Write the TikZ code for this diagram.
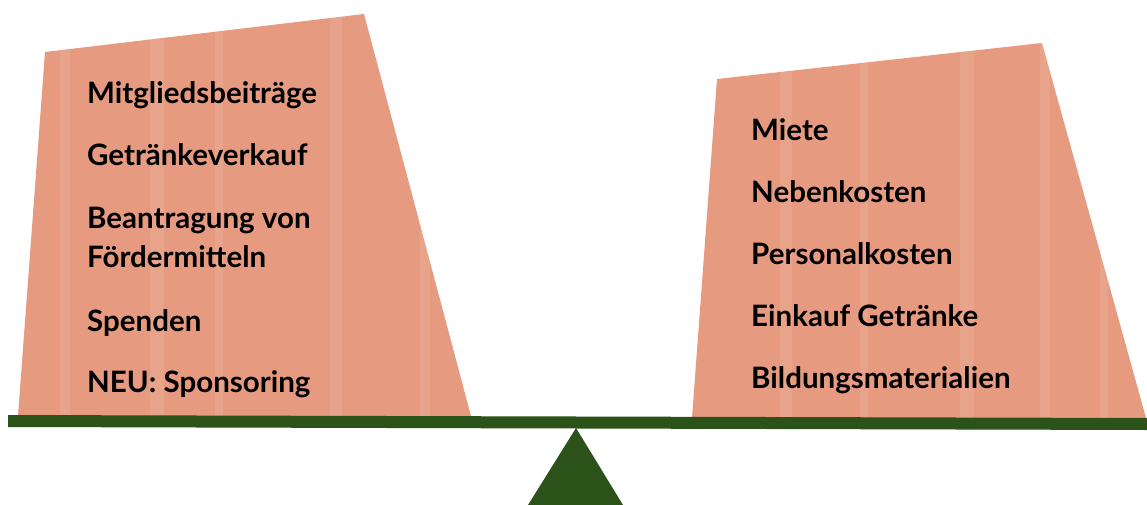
\documentclass[tikz,border=0pt]{standalone}
\usepackage{fontspec}
\setmainfont{Lato}[BoldFont={Lato Bold}]
\definecolor{salmon}{HTML}{E69A80}
\definecolor{beamgreen}{HTML}{2B5219}
\tikzset{
  block/.style={fill=salmon, draw=none},
  item/.style={anchor=base west, inner sep=0pt, font=\fontsize{29.5}{34}\selectfont\bfseries, text=black},
  speck/.style={fill=white, opacity=0.09, draw=none},
}
\begin{document}
\begin{tikzpicture}[x=1pt,y=-1pt]
\useasboundingbox (0,0) rectangle (1147,505);
\fill[white] (0,0) rectangle (1147,505);
% left block
\path[block] (45,52) -- (364,14) -- (471,416) -- (18,416) -- cycle;
% right block
\path[block] (717,79) -- (1042,43) -- (1146,418) -- (692,418) -- cycle;
% light texture
\begin{scope}
\clip (45,52) -- (364,14) -- (471,416) -- (18,416) -- cycle
      (717,79) -- (1042,43) -- (1146,418) -- (692,418) -- cycle;
\foreach \x/\w in {60/10,150/14,215/8,330/12,420/10,780/12,860/8,960/14,1040/10,1100/8}
  \fill[speck] (\x,0) rectangle ++(\w,420);
\end{scope}
% beam
\path[fill=beamgreen] (8,415) -- (1147,418) -- (1147,430) -- (8,427) -- cycle;
% fulcrum
\coordinate (apex) at (576,428);
\coordinate (bl) at (528,505);
\coordinate (br) at (623,505);
\fill[beamgreen] (apex) -- (br) -- (bl) -- cycle;
% left texts
\node[item] (l1) at (87,104) {Mitgliedsbeiträge};
\node[item] (l2) at (87,166) {Getränkeverkauf};
\node[item] (l3) at (87,228) {Beantragung von};
\node[item] (l4) at (87,267) {Fördermitteln};
\node[item] (l5) at (87,331) {Spenden};
\node[item] (l6) at (87,392) {NEU: Sponsoring};
% right texts
\node[item] (r1) at (751,141) {Miete};
\node[item] (r2) at (751,202) {Nebenkosten};
\node[item] (r3) at (751,264) {Personalkosten};
\node[item] (r4) at (751,326) {Einkauf Getränke};
\node[item] (r5) at (751,388) {Bildungsmaterialien};
\end{tikzpicture}
\end{document}
